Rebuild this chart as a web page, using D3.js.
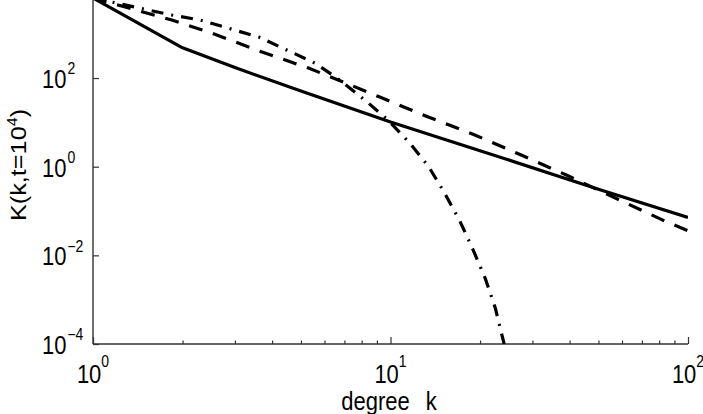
<!DOCTYPE html>
<html>
<head>
<meta charset="utf-8">
<script src="https://cdnjs.cloudflare.com/ajax/libs/d3/7.8.5/d3.min.js"></script>
<style>
    body { margin: 0; background: #fff; }
    svg { display: block; }
    text { font-family: "Liberation Sans", Arial, Helvetica, sans-serif; fill: #000; }
</style>
</head>
<body>
<div id="chart"></div>
<script>

// Data: degree k and K(k, t=10^4)
var solidK = [1, 2, 3, 5, 10, 20, 50, 100];
var solidV = [6400, 480, 172, 51, 10.2, 2.3, 0.31, 0.072];

var dashedK = [1, 1.84, 2.5, 3.7, 5.3, 6.8, 9.2, 13.4, 19.2, 27.5, 39, 57, 82, 100];
var dashedV = [6380, 2040, 1040, 386, 168, 86, 37.3, 13.2, 5.2, 1.83, 0.65, 0.196, 0.063, 0.036];

var dashDotK = [1, 1.84, 2.29, 3.61, 5.57, 6.61, 8.2, 9.81, 11.6, 13.4, 15.2, 17.1, 18.9, 20.8, 22.5, 24.1];
var dashDotV = [6380, 2640, 2040, 841, 218, 100, 31.9, 11.3, 3.42, 1.035, 0.255, 0.0596, 0.0139, 0.00308, 0.00065, 0.0001];

var xMajor = [1, 10, 100],
    xMinor = [2, 3, 4, 5, 6, 7, 8, 9, 20, 30, 40, 50, 60, 70, 80, 90],
    xExp = ["0", "1", "2"];
var yMajor = [1e-4, 1e-2, 1, 1e2],
    yExp = ["\u22124", "\u22122", "0", "2"];


// --> CREATE SVG DRAWING AREA
var width = 703,
    height = 414;

var svg = d3.select("#chart").append("svg")
    .attr("width", width)
    .attr("height", height);

// text in the picture is a bit taller than wide
var stretch = 1.15;

var x = d3.scaleLog()
    .domain([1, 100])
    .range([93, 688]);

var y = d3.scaleLog()
    .domain([1e-4, 1e4])
    .range([344, -10.6]);

svg.append("clipPath")
    .attr("id", "plot-clip")
    .append("rect")
    .attr("x", x(1))
    .attr("y", -20)
    .attr("width", x(100) - x(1))
    .attr("height", y(1e-4) + 20);


// Axes (inward ticks, no box)
var axisColor = "#333";

var xMinorAxis = d3.axisBottom(x)
    .tickValues(xMinor)
    .tickSize(-3.5)
    .tickFormat("");

var xMajorAxis = d3.axisBottom(x)
    .tickValues(xMajor)
    .tickSize(-7)
    .tickFormat("");

var yAxis = d3.axisLeft(y)
    .tickValues(yMajor)
    .tickSize(-6)
    .tickFormat("");

[xMinorAxis, xMajorAxis].forEach(function(ax) {
    svg.append("g")
        .attr("class", "x-axis")
        .attr("transform", "translate(0," + y(1e-4) + ")")
        .call(ax);
});

svg.append("g")
    .attr("class", "y-axis")
    .attr("transform", "translate(" + x(1) + ",0)")
    .call(yAxis);

svg.selectAll(".x-axis .domain, .y-axis .domain").remove();
svg.selectAll(".x-axis line, .y-axis line")
    .attr("stroke", axisColor)
    .attr("stroke-width", 1.2);

svg.append("line")
    .attr("x1", x(1)).attr("x2", x(100))
    .attr("y1", y(1e-4)).attr("y2", y(1e-4))
    .attr("stroke", axisColor)
    .attr("stroke-width", 1.4);

svg.append("line")
    .attr("x1", x(1)).attr("x2", x(1))
    .attr("y1", y(1e-4)).attr("y2", 0)
    .attr("stroke", axisColor)
    .attr("stroke-width", 1.4);


// Tick labels as 10^n
xMajor.forEach(function(d, i) {
    var t = svg.append("g")
        .attr("transform", "translate(" + x(d) + ",383) scale(1," + stretch + ")")
        .append("text")
        .attr("text-anchor", "middle")
        .style("font-size", "22px");
    t.append("tspan").text("10");
    t.append("tspan")
        .attr("dy", -13.5)
        .style("font-size", "14px")
        .text(xExp[i]);
});

yMajor.forEach(function(d, i) {
    var t = svg.append("g")
        .attr("transform", "translate(42," + (y(d) + 10) + ") scale(1," + stretch + ")")
        .append("text")
        .attr("text-anchor", "start")
        .style("font-size", "22px");
    t.append("tspan").text("10");
    t.append("tspan")
        .attr("dx", 1)
        .attr("dy", -12)
        .style("font-size", "14px")
        .text(yExp[i]);
});


// Axis titles
var xTitle = svg.append("g")
    .attr("transform", "translate(389,410) scale(1," + stretch + ")")
    .append("text")
    .attr("text-anchor", "middle")
    .style("font-size", "22px");
xTitle.append("tspan").text("degree");
xTitle.append("tspan").attr("dx", 16).text("k");

var yTitle = svg.append("g")
    .attr("transform", "translate(26,165) scale(1," + stretch + ") rotate(-90)")
    .append("text")
    .attr("text-anchor", "middle")
    .style("font-size", "22px");
yTitle.append("tspan").text("K(k,t=10");
yTitle.append("tspan").attr("dy", -9).style("font-size", "14px").text("4");
yTitle.append("tspan").attr("dy", 9).text(")");


// Curves
var line = d3.line()
    .x(function(d) { return x(d[0]); })
    .y(function(d) { return y(d[1]); });

var series = [
    { k: solidK, v: solidV, dash: null },
    { k: dashedK, v: dashedV, dash: "14,11" },
    { k: dashDotK, v: dashDotV, dash: "12,8,2,8" }
];

svg.append("g")
    .attr("clip-path", "url(#plot-clip)")
    .selectAll("path")
    .data(series)
    .enter().append("path")
    .attr("d", function(s) { return line(d3.zip(s.k, s.v)); })
    .attr("fill", "none")
    .attr("stroke", "#000")
    .attr("stroke-width", 3.2)
    .attr("stroke-linejoin", "round")
    .attr("stroke-dasharray", function(s) { return s.dash; });

</script>
</body>
</html>
